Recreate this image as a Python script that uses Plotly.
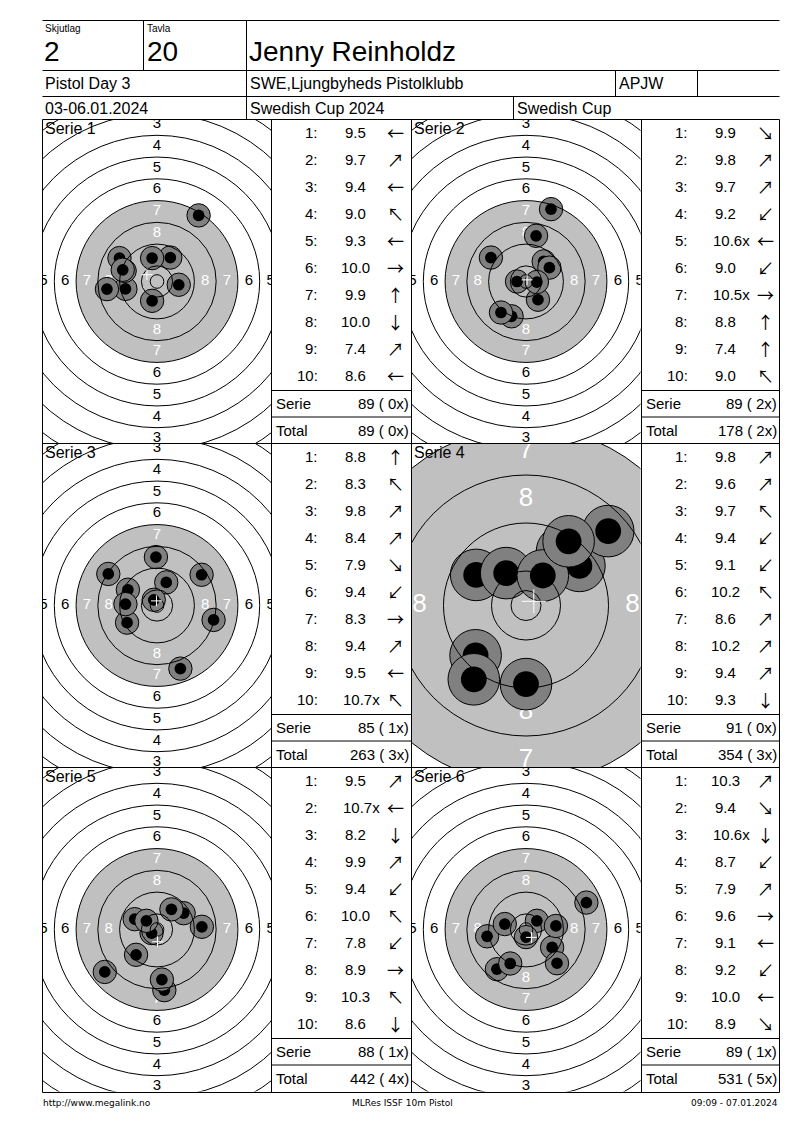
import plotly.graph_objects as go

W, H = 800, 1130
# the page body has an 8px margin; coordinates below are page pixels
OFF = 8
FONT = "Liberation Sans, Arial, sans-serif"
ARROW_FONT = "Noto Sans CJK JP"

# header / footer texts
skjutlag = "2"
tavla = "20"
shooter = "Jenny Reinholdz"
competition = "Pistol Day 3"
club = "SWE,Ljungbyheds Pistolklubb"
klass = "APJW"
dates = "03-06.01.2024"
event = "Swedish Cup 2024"
cup = "Swedish Cup"
footer_left = "http://www.megalink.no"
footer_mid = "MLRes ISSF 10m Pistol"
footer_right = "09:09 - 07.01.2024"

# shot positions in mm from target centre (x right, y up)
s1_x = [-11.6, 4.9, -11.9, -13.8, -12.6, 8.0, -1.8, -1.8, 15.3, -18.4]
s1_y = [-2.7, 8.8, 3.9, 8.6, 4.3, -1.2, 8.6, -7.1, 24.3, -2.8]
s1_score = ["9.5", "9.7", "9.4", "9.0", "9.3", "10.0", "9.9", "10.0", "7.4", "8.6"]
s1_dir = ["←", "↗", "←", "↖", "←", "→", "↑", "↓", "↗", "←"]

s2_x = [4.4, 6.5, 8.6, -5.3, -3.3, -9.2, 4.0, 3.7, 9.2, -12.9]
s2_y = [-6.7, 7.4, 5.1, -12.8, 0.0, -11.4, -0.2, 16.8, 26.6, 8.8]
s2_score = ["9.9", "9.8", "9.7", "9.2", "10.6x", "9.0", "10.5x", "8.8", "7.4", "9.0"]
s2_dir = ["↘", "↗", "↗", "↙", "←", "↙", "→", "↑", "↑", "↖"]

s3_x = [-0.4, -17.9, 3.4, 16.4, 8.6, -11.0, 20.8, -10.7, -11.6, -1.2]
s3_y = [17.8, 11.6, 8.5, 11.3, -23.2, -6.3, -5.3, 5.8, 0.5, 2.1]
s3_score = ["8.8", "8.3", "9.8", "8.4", "7.9", "9.4", "8.3", "9.4", "9.5", "10.7x"]
s3_dir = ["↑", "↖", "↗", "↗", "↘", "↙", "→", "↗", "←", "↖"]

s4_x = [6.0, 8.9, -8.3, -8.4, -8.7, -3.3, 13.7, 2.8, 7.1, 0.0]
s4_y = [9.0, 6.6, 5.1, -8.3, -12.3, 5.4, 12.4, 5.0, 10.7, -13.1]
s4_score = ["9.8", "9.6", "9.7", "9.4", "9.1", "10.2", "8.6", "10.2", "9.4", "9.3"]
s4_dir = ["↗", "↗", "↖", "↙", "↙", "↖", "↗", "↗", "↗", "↓"]

s5_x = [9.8, -2.0, 2.7, 5.3, -7.7, -8.2, -19.2, 16.5, -3.9, 1.8]
s5_y = [6.0, -1.3, -22.3, 7.4, -9.3, 3.8, -15.6, 1.0, 3.2, -18.4]
s5_score = ["9.5", "10.7x", "8.2", "9.9", "9.4", "10.0", "7.8", "8.9", "10.3", "8.6"]
s5_dir = ["↗", "←", "↓", "↗", "↙", "↖", "↙", "→", "↖", "↓"]

s6_x = [4.0, 9.6, 0.0, -10.7, 22.2, 11.0, -14.3, -5.8, -7.8, 11.4]
s6_y = [3.2, -6.6, -2.8, -14.6, 9.9, 1.3, -2.5, -12.5, 2.0, -12.4]
s6_score = ["10.3", "9.4", "10.6x", "8.7", "7.9", "9.6", "9.1", "9.2", "10.0", "8.9"]
s6_dir = ["↗", "↘", "↓", "↙", "↗", "→", "←", "↙", "←", "↘"]

# mean point of impact (white cross), mm
mpi_x = [-3.7, 0.4, -0.2, 1.3, 0.2, 2.0]
mpi_y = [2.5, 0.6, 1.7, 0.7, -4.5, -2.9]

serie_sum = ["89 ( 0x)", "89 ( 2x)", "85 ( 1x)", "91 ( 0x)", "88 ( 1x)", "89 ( 1x)"]
total_sum = ["89 ( 0x)", "178 ( 2x)", "263 ( 3x)", "354 ( 3x)", "442 ( 4x)", "531 ( 5x)"]
serie_names = ["Serie 1", "Serie 2", "Serie 3", "Serie 4", "Serie 5", "Serie 6"]

series = [
    (s1_x, s1_y, s1_score, s1_dir),
    (s2_x, s2_y, s2_score, s2_dir),
    (s3_x, s3_y, s3_score, s3_dir),
    (s4_x, s4_y, s4_score, s4_dir),
    (s5_x, s5_y, s5_score, s5_dir),
    (s6_x, s6_y, s6_score, s6_dir),
]
# px per mm of each target view (serie 4 is shown zoomed)
target_scale = [2.72, 2.72, 2.72, 6.0, 2.72, 2.72]
ring_label_numbers = [3, 4, 5, 6, 7, 8]


# ISSF 10m pistol target geometry (mm)
def ring_radius(n):
    return 5.75 + (10 - n) * 8.0


INNER_TEN = 2.5
BLACK_R = ring_radius(7)
SHOT_R = 4.3
HOLE_R = 2.15

fig = go.Figure()
shapes = []
annotations = []


def px(x):
    return (x - OFF) / W


def py(y):
    return 1 - (y - OFF) / H


def line(x0, y0, x1, y1):
    shapes.append(dict(type="line", xref="paper", yref="paper", layer="above",
                       x0=px(x0), y0=py(y0), x1=px(x1), y1=py(y1),
                       line=dict(color="black", width=1)))


def text(x, y, s, size, anchor="left", family=FONT):
    annotations.append(dict(xref="paper", yref="paper", x=px(x), y=py(y), text=s,
                            showarrow=False, xanchor=anchor, yanchor="middle",
                            font=dict(size=size, color="black", family=family)))


# header
L, R = 42.5, 779.5
line(L, 20.5, R, 20.5)
line(L, 70.5, R, 70.5)
line(L, 96.5, R, 96.5)
line(143.5, 20.5, 143.5, 70.5)
line(246.5, 20.5, 246.5, 120)
line(615.5, 70.5, 615.5, 96.5)
line(697.5, 70.5, 697.5, 96.5)
line(513.5, 96.5, 513.5, 120)

text(43, 28, "Skjutlag", 10)
text(145, 28, "Tavla", 10)
text(42, 52, skjutlag, 28)
text(145, 52, tavla, 28)
text(247, 52, shooter, 28)
text(43, 84, competition, 16)
text(248, 84, club, 16)
text(617, 84, klass, 16)
text(43, 108.5, dates, 16)
text(248, 108.5, event, 16)
text(515, 108.5, cup, 16)

# panels
tops = [119.5, 443.5, 767.5]
bottom = 1092.5
target_left = [42.5, 411.5]
table_left = [271.5, 641.5]
table_right = [411.5, 779.5]
PANEL_H = 324
TARGET_W = 229

for y in tops + [bottom]:
    line(L, y, R, y)
for x in [L, 271.5, 411.5, 641.5, R]:
    line(x, tops[0], x, bottom)

for i, (sx, sy, sc, sd) in enumerate(series):
    row, col = divmod(i, 2)
    top = tops[row]
    k = "" if i == 0 else str(i + 1)
    xa, ya = "x" + k, "y" + k
    s = target_scale[i]
    hx = TARGET_W / 2 / s
    hy = PANEL_H / 2 / s
    x0 = target_left[col]
    fig.update_layout(**{
        "xaxis" + k: dict(domain=[px(x0), px(x0 + TARGET_W)], range=[-hx, hx],
                          anchor=ya, visible=False, fixedrange=True),
        "yaxis" + k: dict(domain=[py(top + PANEL_H), py(top)], range=[-hy, hy],
                          anchor=xa, visible=False, fixedrange=True),
    })

    def circ(r, cx=0.0, cy=0.0, fill=None, lw=1, layer="above", color="black"):
        d = dict(type="circle", xref=xa, yref=ya, layer=layer,
                 x0=cx - r, x1=cx + r, y0=cy - r, y1=cy + r,
                 line=dict(color=color, width=lw))
        if fill:
            d["fillcolor"] = fill
        shapes.append(d)

    # black (drawn grey) aiming area
    circ(BLACK_R, fill="#c0c0c0", lw=0, layer="below", color="#c0c0c0")

    # ring numbers
    lx, ly, lt, lc = [], [], [], []
    for n in ring_label_numbers:
        r = ring_radius(n) - 4.0
        for dx, dy in [(0, 1), (0, -1), (-1, 0), (1, 0)]:
            lx.append(dx * r)
            ly.append(dy * r)
            lt.append(str(n))
            lc.append("white" if n >= 7 else "black")
    fig.add_trace(go.Scatter(x=lx, y=ly, text=lt, mode="text", xaxis=xa, yaxis=ya,
                             textposition="middle center", cliponaxis=True,
                             textfont=dict(size=26 if s > 3 else 15,
                                           color=lc, family=FONT),
                             hoverinfo="skip", showlegend=False))

    # shots
    for x, y in zip(sx, sy):
        circ(SHOT_R, x, y, fill="#808080", lw=1)
        circ(HOLE_R, x, y, fill="black", lw=0)

    # ring lines
    for n in range(2, 11):
        circ(ring_radius(n))
    circ(INNER_TEN)

    # mean point of impact
    cx, cy = mpi_x[i], mpi_y[i]
    for ax0, ay0, ax1, ay1 in [(cx - 2, cy, cx + 2, cy), (cx, cy - 2, cx, cy + 2)]:
        shapes.append(dict(type="line", xref=xa, yref=ya, layer="above",
                           x0=ax0, y0=ay0, x1=ax1, y1=ay1,
                           line=dict(color="white", width=1)))

    text(x0, top + 9, serie_names[i], 16)

    # score table
    tl, tr = table_left[col], table_right[col]
    line(tl, top + 271, tr, top + 271)
    line(tl, top + 297.5, tr, top + 297.5)
    for j in range(10):
        yy = top + 13 + 27 * j
        text(tl + 48, yy, f"{j + 1}:", 15, "right")
        if sc[j].endswith("x"):
            text(tl + 69, yy, sc[j], 15, "left")
        else:
            text(tl + 84, yy, sc[j], 15, "center")
        text(tl + 124, yy, sd[j], 17, "center", family=ARROW_FONT)
    text(tl + 2, top + 284, "Serie", 15)
    text(tr - 1, top + 284, serie_sum[i], 15, "right")
    text(tl + 2, top + 311, "Total", 15)
    text(tr - 1, top + 311, total_sum[i], 15, "right")

# footer
text(41, 1103, footer_left, 9, "left", family="DejaVu Sans")
text(402, 1103, footer_mid, 9, "center", family="DejaVu Sans")
text(780, 1103, footer_right, 9, "right", family="DejaVu Sans")

fig.update_layout(width=W, height=H, margin=dict(l=0, r=0, t=0, b=0, pad=0),
                  paper_bgcolor="white", plot_bgcolor="white", showlegend=False,
                  shapes=shapes, annotations=annotations)

fig.write_html("out.html")
